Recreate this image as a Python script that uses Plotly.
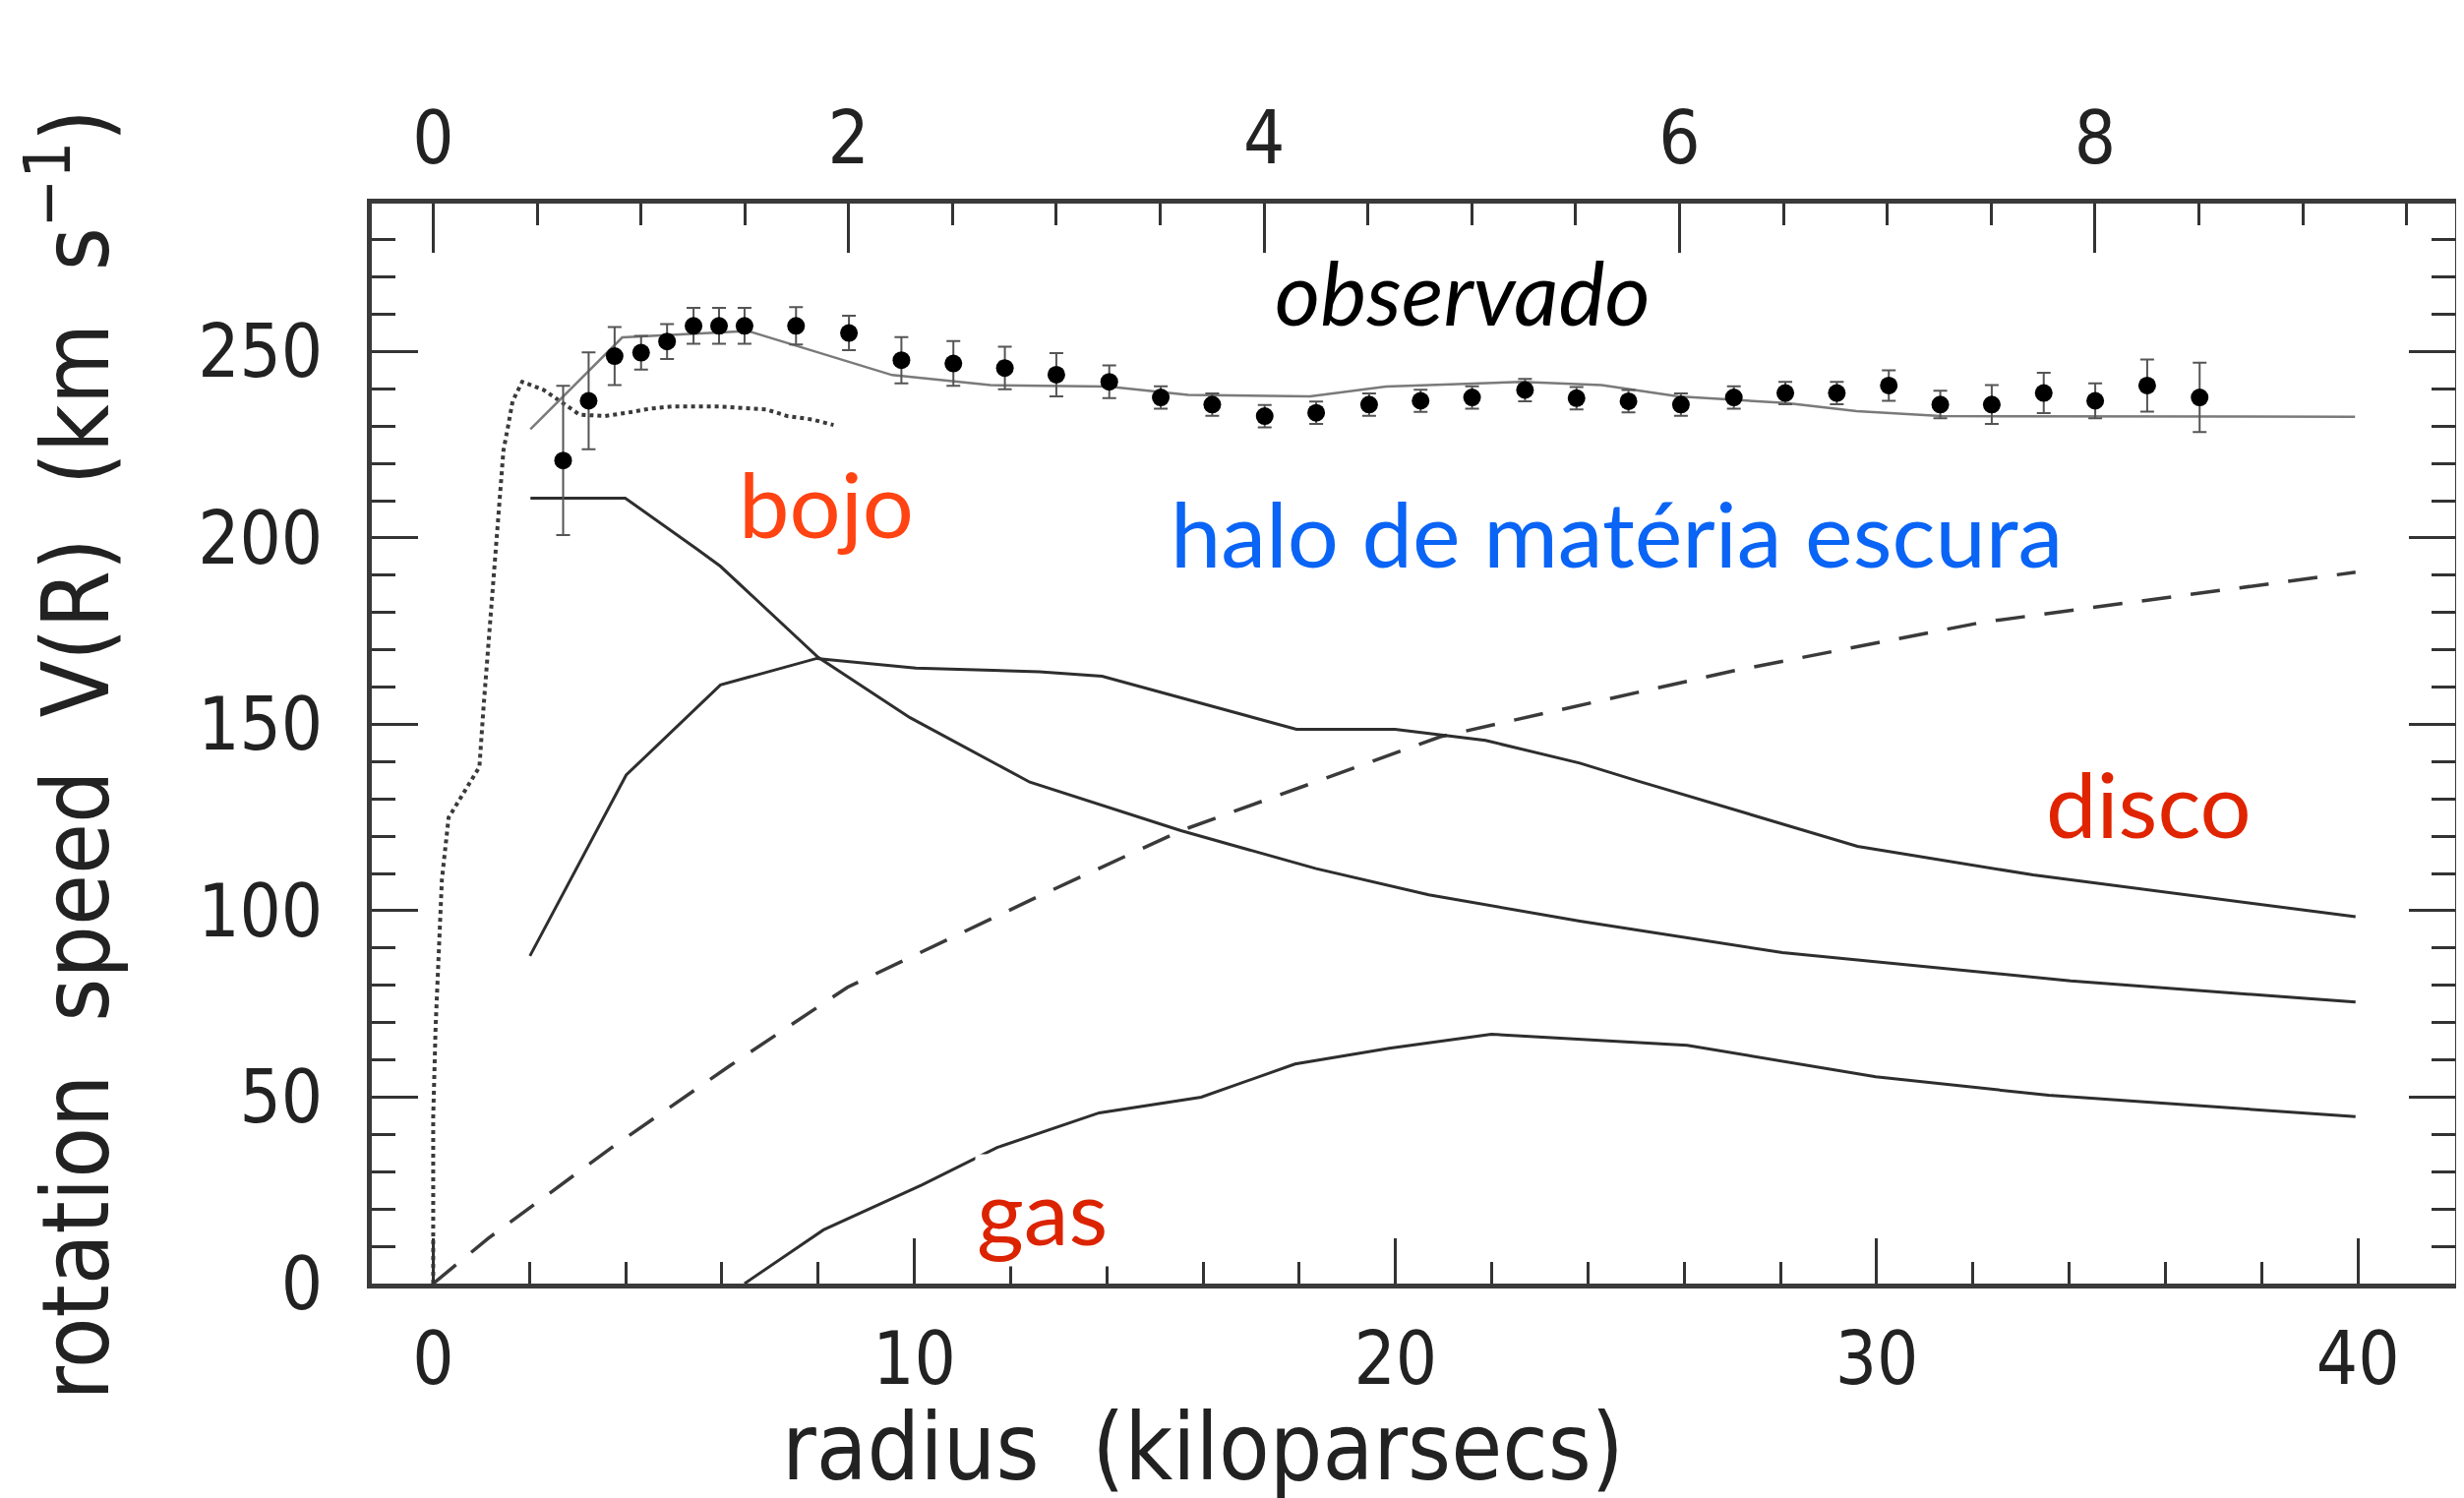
import plotly.graph_objects as go

# ---------------- data ----------------
# observed rotation speeds (radius kpc, speed km/s, error km/s)
obs_r = [2.70, 3.23, 3.77, 4.32, 4.86, 5.41, 5.94, 6.47, 7.54, 8.64, 9.73, 10.81,
         11.88, 12.95, 14.05, 15.12, 16.19, 17.28, 18.35, 19.45, 20.52, 21.59,
         22.69, 23.76, 24.84, 25.93, 27.03, 28.10, 29.17, 30.25, 31.32, 32.39,
         33.47, 34.54, 35.62, 36.71]
obs_v = [220.8, 236.8, 248.8, 249.7, 252.7, 256.9, 256.9, 256.9, 256.9, 255.0, 247.7, 246.8,
         245.6, 243.8, 241.9, 237.7, 235.8, 232.7, 233.6, 235.8, 236.8, 237.7,
         239.7, 237.5, 236.7, 235.8, 237.7, 238.9, 238.9, 240.9, 235.8, 235.8,
         238.9, 236.8, 240.9, 237.7]
obs_err = [20.0, 13.0, 7.8, 4.5, 4.7, 4.8, 4.8, 4.8, 5.0, 4.6, 6.2, 6.0,
           5.7, 5.8, 4.4, 3.0, 3.0, 3.0, 3.0, 3.0, 3.0, 3.0,
           3.0, 3.0, 3.0, 3.0, 3.0, 3.0, 3.0, 4.1, 3.7, 5.2,
           5.4, 4.7, 7.0, 9.3]

# inner (dotted) rotation curve
inner_r = [0.0, 0.0, 0.05, 0.18, 0.32, 0.96, 1.05, 1.28, 1.46, 1.55, 1.65, 1.85, 2.30,
           3.04, 3.56, 4.03, 4.51, 4.98, 5.46, 5.94, 6.41, 6.92, 7.36, 7.87, 8.32]
inner_v = [0.0, 44.8, 69.0, 108.3, 125.0, 138.6, 155.3, 193.2, 223.5, 229.6, 236.7, 241.9, 239.7,
           233.1, 232.7, 233.6, 234.7, 235.3, 235.3, 235.3, 234.9, 234.5, 232.7, 231.8, 230.3]

# total model fit
model_r = [2.02, 3.93, 6.55, 9.54, 11.58, 14.03, 15.69, 18.22, 19.80, 22.62, 24.28,
           25.87, 28.12, 29.58, 31.34, 39.94]
model_v = [229.2, 253.8, 255.5, 243.7, 241.0, 240.6, 238.4, 238.0, 240.6, 241.9, 241.0,
           238.0, 236.2, 234.0, 232.7, 232.5]

# bulge
bulge_r = [2.02, 3.99, 5.46, 5.97, 8.00, 9.91, 12.40, 15.54, 18.35, 20.69, 23.83, 28.04, 34.03, 39.95]
bulge_v = [210.7, 210.7, 197.2, 192.4, 168.0, 151.8, 134.5, 121.5, 111.3, 104.3, 97.2, 88.8, 81.2, 75.5]

# disk
disk_r = [2.01, 4.01, 5.97, 7.97, 10.03, 12.60, 13.90, 17.94, 19.99, 21.87, 23.83, 25.04, 29.60, 33.25, 39.95]
disk_v = [87.9, 136.4, 160.6, 167.7, 165.1, 164.1, 162.9, 148.7, 148.7, 145.7, 139.6, 134.8, 117.3, 109.6, 98.4]

# gas
gas_r = [6.47, 8.11, 10.16, 11.72, 13.84, 15.96, 17.91, 19.87, 21.99, 26.06, 29.98, 33.57, 39.95]
gas_v = [0.0, 14.4, 26.5, 36.5, 45.8, 50.0, 58.9, 63.1, 66.9, 63.9, 55.5, 50.5, 44.8]

# dark matter halo
halo_r = [0.0, 1.14, 3.69, 6.15, 8.61, 12.60, 15.54, 20.93, 27.00, 32.20, 39.95]
halo_v = [0.0, 12.1, 36.3, 58.3, 79.5, 104.0, 121.5, 146.7, 164.3, 177.4, 190.8]

# top axis (other unit)
top_ticks = [0, 2, 4, 6, 8]
kpc_per_top_unit = 4.317

# labels
labels = ["observado", "bojo", "halo de matéria escura", "disco", "gas"]
label_r = [21.4, 8.16, 24.6, 35.65, 12.66]
label_v = [266.0, 209.4, 201.4, 129.0, 19.6]
label_colors = ["#000000", "#ff4312", "#0a64f5", "#e02400", "#dc2300"]

# ---------------- figure ----------------
x_range = [-1.276, 42.02]
y_range = [0, 289.7]

LINE = "#2e2e2e"
fig = go.Figure()

fig.add_trace(go.Scatter(x=inner_r, y=inner_v, mode="lines",
                         line=dict(color="#3a3a3a", width=4, dash="dot")))
fig.add_trace(go.Scatter(x=halo_r, y=halo_v, mode="lines",
                         line=dict(color="#3a3a3a", width=3.5, dash="30px,20px")))
for rr, vv in [(bulge_r, bulge_v), (disk_r, disk_v), (gas_r, gas_v)]:
    fig.add_trace(go.Scatter(x=rr, y=vv, mode="lines", line=dict(color=LINE, width=3)))
fig.add_trace(go.Scatter(x=model_r, y=model_v, mode="lines",
                         line=dict(color="#7a7a7a", width=2.5)))
fig.add_trace(go.Scatter(x=obs_r, y=obs_v, mode="markers",
                         marker=dict(color="black", size=18),
                         error_y=dict(type="data", array=obs_err, visible=True,
                                      color="#555555", thickness=2, width=7)))
# dummy trace to tie the top axis
fig.add_trace(go.Scatter(x=top_ticks, y=[None] * len(top_ticks), xaxis="x2",
                         mode="markers", hoverinfo="skip"))

tick_font = dict(family="Liberation Sans Narrow, DejaVu Sans Condensed, Arial Narrow, sans-serif",
                 size=74, color="#222222")
title_font = dict(family="DejaVu Sans Condensed, Liberation Sans Narrow, sans-serif",
                  size=94, color="#222222")

axis_common = dict(showline=True, linewidth=5, linecolor="#3a3a3a", ticks="inside",
                   tickwidth=3, tickcolor="#333333", showgrid=False, zeroline=False,
                   tickfont=tick_font)

fig.update_layout(
    width=2505, height=1523,
    margin=dict(l=370, r=14, t=199, b=226),
    paper_bgcolor="white", plot_bgcolor="white",
    showlegend=False,
    xaxis=dict(range=x_range, tick0=0, dtick=10, ticklen=46, ticklabelstandoff=8,
               minor=dict(tick0=0, dtick=2, ticks="inside", ticklen=22, tickwidth=3,
                          tickcolor="#333333", showgrid=False),
               **axis_common),
    xaxis2=dict(range=[x_range[0] / kpc_per_top_unit, x_range[1] / kpc_per_top_unit],
                overlaying="x", side="top", anchor="y", tick0=0, dtick=2, ticklen=50,
                ticklabelstandoff=6,
                minor=dict(tick0=0, dtick=0.5, ticks="inside", ticklen=22, tickwidth=3,
                           tickcolor="#333333", showgrid=False),
                **axis_common),
    yaxis=dict(range=y_range, tick0=0, dtick=50, ticklen=47, mirror="ticks",
               ticklabelstandoff=30,
               minor=dict(tick0=0, dtick=10, ticks="inside", ticklen=24, tickwidth=3,
                          tickcolor="#333333", showgrid=False),
               **axis_common),
)

# axis titles as annotations
fig.add_annotation(text="radius\u00a0\u00a0(kiloparsecs)", xref="paper", yref="paper",
                   x=0.399, y=-0.152, xanchor="center", yanchor="middle",
                   showarrow=False, font=title_font)
fig.add_annotation(text="rotation\u00a0\u00a0speed\u00a0\u00a0V(R)\u00a0\u00a0(km\u00a0\u00a0s<sup>\u22121</sup>)",
                   xref="paper", yref="paper", x=-0.145, y=0.49, textangle=-90,
                   xanchor="center", yanchor="middle", showarrow=False, font=title_font)

for txt, rr, vv, col in zip(labels, label_r, label_v, label_colors):
    italic = txt == "observado"
    fig.add_annotation(text=txt, x=rr, y=vv, xref="x", yref="y", showarrow=False,
                       xanchor="center", yanchor="middle", bgcolor="white",
                       font=dict(family="Lato, Open Sans, sans-serif",
                                 size=89 if italic else 92, color=col,
                                 style="italic" if italic else "normal"))

fig.write_html("out.html")
